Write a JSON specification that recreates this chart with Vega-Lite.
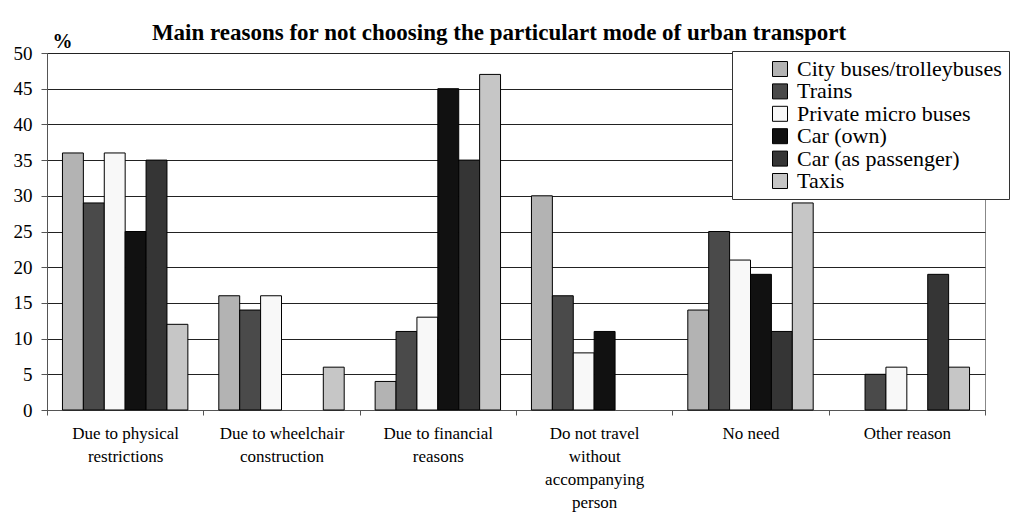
{
  "$schema": "https://vega.github.io/schema/vega-lite/v6.json",
  "description": "Main reasons for not choosing the particular mode of urban transport",
  "autosize": {"type": "none"},
  "padding": {"left": 47, "top": 53, "right": 48, "bottom": 122},
  "width": 938,
  "height": 357,
  "background": "white",
  "title": {
    "text": "Main reasons for not choosing the particulart mode of urban transport",
    "font": "Liberation Serif",
    "fontSize": 23,
    "fontWeight": "bold",
    "color": "black",
    "anchor": "middle",
    "dx": -17,
    "offset": -14
  },
  "data": {
    "values": [
      {"reason": "Due to physical\nrestrictions", "mode": "City buses/trolleybuses", "value": 36},
      {"reason": "Due to physical\nrestrictions", "mode": "Trains", "value": 29},
      {"reason": "Due to physical\nrestrictions", "mode": "Private micro buses", "value": 36},
      {"reason": "Due to physical\nrestrictions", "mode": "Car (own)", "value": 25},
      {"reason": "Due to physical\nrestrictions", "mode": "Car (as passenger)", "value": 35},
      {"reason": "Due to physical\nrestrictions", "mode": "Taxis", "value": 12},
      {"reason": "Due to wheelchair\nconstruction", "mode": "City buses/trolleybuses", "value": 16},
      {"reason": "Due to wheelchair\nconstruction", "mode": "Trains", "value": 14},
      {"reason": "Due to wheelchair\nconstruction", "mode": "Private micro buses", "value": 16},
      {"reason": "Due to wheelchair\nconstruction", "mode": "Taxis", "value": 6},
      {"reason": "Due to financial\nreasons", "mode": "City buses/trolleybuses", "value": 4},
      {"reason": "Due to financial\nreasons", "mode": "Trains", "value": 11},
      {"reason": "Due to financial\nreasons", "mode": "Private micro buses", "value": 13},
      {"reason": "Due to financial\nreasons", "mode": "Car (own)", "value": 45},
      {"reason": "Due to financial\nreasons", "mode": "Car (as passenger)", "value": 35},
      {"reason": "Due to financial\nreasons", "mode": "Taxis", "value": 47},
      {"reason": "Do not travel\nwithout\naccompanying\nperson", "mode": "City buses/trolleybuses", "value": 30},
      {"reason": "Do not travel\nwithout\naccompanying\nperson", "mode": "Trains", "value": 16},
      {"reason": "Do not travel\nwithout\naccompanying\nperson", "mode": "Private micro buses", "value": 8},
      {"reason": "Do not travel\nwithout\naccompanying\nperson", "mode": "Car (own)", "value": 11},
      {"reason": "No need", "mode": "City buses/trolleybuses", "value": 14},
      {"reason": "No need", "mode": "Trains", "value": 25},
      {"reason": "No need", "mode": "Private micro buses", "value": 21},
      {"reason": "No need", "mode": "Car (own)", "value": 19},
      {"reason": "No need", "mode": "Car (as passenger)", "value": 11},
      {"reason": "No need", "mode": "Taxis", "value": 29},
      {"reason": "Other reason", "mode": "Trains", "value": 5},
      {"reason": "Other reason", "mode": "Private micro buses", "value": 6},
      {"reason": "Other reason", "mode": "Car (as passenger)", "value": 19},
      {"reason": "Other reason", "mode": "Taxis", "value": 6}
    ]
  },
  "mark": {"type": "bar", "stroke": "black", "strokeWidth": 1},
  "encoding": {
    "x": {
      "field": "reason",
      "type": "nominal",
      "sort": null,
      "scale": {"paddingInner": 0, "paddingOuter": 0},
      "axis": {
        "title": null,
        "labelAngle": 0,
        "labelExpr": "split(datum.label, '\\n')",
        "labelFont": "Liberation Serif",
        "labelFontSize": 17,
        "labelColor": "black",
        "labelLineHeight": 23,
        "labelBaseline": "top",
        "labelPadding": 10,
        "labelLimit": 200,
        "tickBand": "extent",
        "tickColor": "#555",
        "tickSize": 5,
        "domainColor": "#555"
      }
    },
    "xOffset": {
      "field": "mode",
      "type": "nominal",
      "sort": null,
      "scale": {
        "domain": ["City buses/trolleybuses", "Trains", "Private micro buses", "Car (own)", "Car (as passenger)", "Taxis"],
        "paddingInner": 0,
        "paddingOuter": 0.74
      }
    },
    "y": {
      "field": "value",
      "type": "quantitative",
      "scale": {"domain": [0, 50]},
      "axis": {
        "title": "%",
        "titleAngle": 0,
        "titleFont": "Liberation Serif",
        "titleFontSize": 20,
        "titleFontWeight": "bold",
        "titleColor": "black",
        "titleX": 5,
        "titleY": -6,
        "titleAlign": "left",
        "titleBaseline": "alphabetic",
        "values": [0, 5, 10, 15, 20, 25, 30, 35, 40, 45, 50],
        "labelFont": "Liberation Serif",
        "labelFontSize": 19,
        "labelColor": "black",
        "labelPadding": 9,
        "tickColor": "#555",
        "tickSize": 6,
        "domainColor": "#555",
        "grid": true,
        "gridColor": "#222",
        "gridWidth": 1
      }
    },
    "color": {
      "field": "mode",
      "type": "nominal",
      "sort": null,
      "scale": {
        "domain": ["City buses/trolleybuses", "Trains", "Private micro buses", "Car (own)", "Car (as passenger)", "Taxis"],
        "range": ["#b3b3b3", "#4a4a4a", "#f8f8f8", "#111111", "#353535", "#c6c6c6"]
      },
      "legend": {
        "title": null,
        "orient": "none",
        "legendX": 685,
        "legendY": -2,
        "fillColor": "white",
        "strokeColor": "#333",
        "padding": 7,
        "symbolType": "square",
        "symbolSize": 225,
        "symbolStrokeColor": "black",
        "symbolStrokeWidth": 1,
        "symbolOffset": 30,
        "labelFont": "Liberation Serif",
        "labelFontSize": 22,
        "labelColor": "black",
        "labelOffset": 6,
        "labelLimit": 300,
        "rowPadding": 0.4
      }
    }
  },
  "config": {
    "view": {"stroke": "#888", "strokeWidth": 1}
  }
}
